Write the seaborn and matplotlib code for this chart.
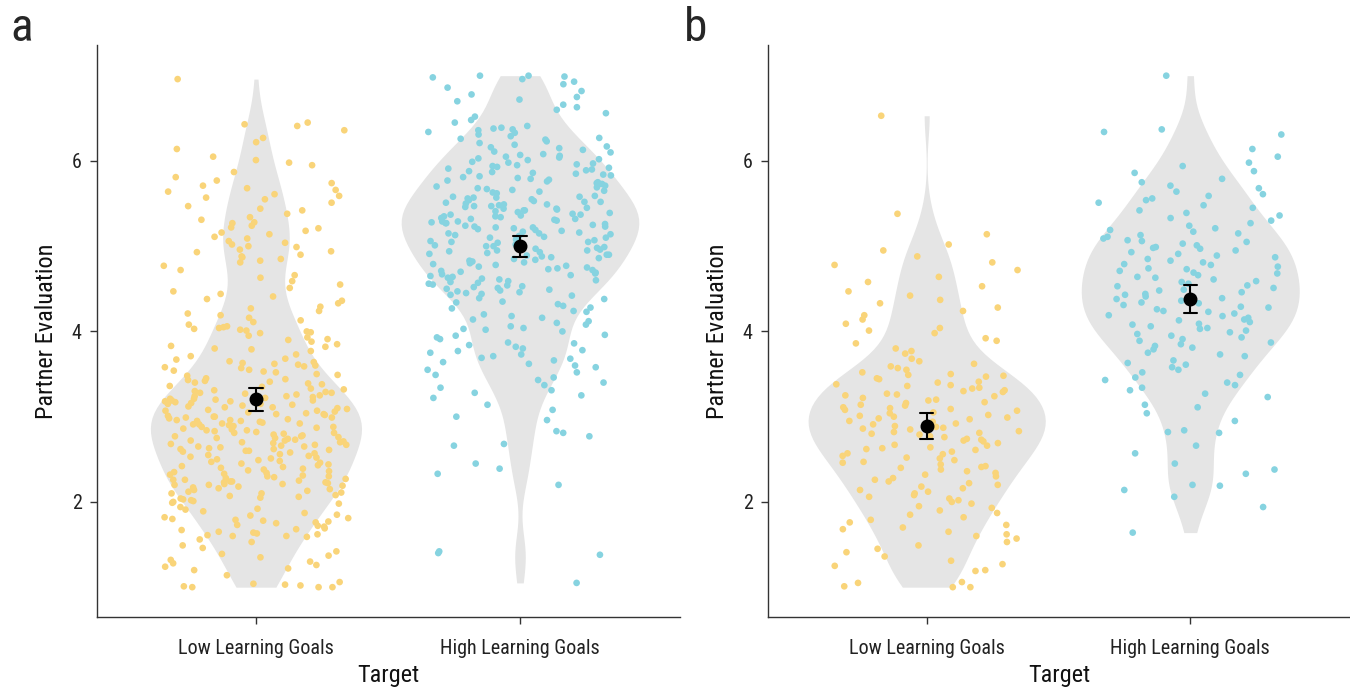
import numpy as np
import pandas as pd
import matplotlib
matplotlib.use('Agg')
import matplotlib.pyplot as plt
import seaborn as sns
from matplotlib import font_manager

# Partner evaluation scores (panel a = study 1, panel b = study 2)
low_a = [
    6.96, 6.45, 6.43, 6.41, 6.36, 6.27, 6.22, 6.14, 6.05, 6.01,
    5.98, 5.95, 5.87, 5.81, 5.77, 5.74, 5.71, 5.68, 5.66, 5.64, 5.61,
    5.59, 5.57, 5.55, 5.51, 5.47, 5.44, 5.42, 5.38, 5.34, 5.31, 5.28, 5.27, 5.24, 5.22, 5.21,
    5.18, 5.16, 5.14, 5.11, 5.09, 5.06, 5.04, 5.02, 5.00, 4.99, 4.96, 4.94, 4.93, 4.90, 4.88, 4.87, 4.85, 4.83, 4.81,
    4.77, 4.72, 4.66, 4.63, 4.59, 4.55, 4.51, 4.47, 4.44, 4.41,
    4.38, 4.36, 4.33, 4.29, 4.27, 4.24, 4.21, 4.19, 4.16, 4.13, 4.11, 4.08, 4.06, 4.05, 4.04, 4.03, 4.02, 4.01, 4.00,
    3.99, 3.98, 3.95, 3.93, 3.91, 3.90, 3.88, 3.85, 3.83, 3.82, 3.80, 3.79, 3.77,
    3.73, 3.71, 3.68, 3.67, 3.65, 3.64, 3.63, 3.62, 3.61, 3.60,
    3.59, 3.58, 3.57, 3.55, 3.54, 3.53, 3.52, 3.50, 3.49, 3.48, 3.45, 3.44, 3.43, 3.42, 3.41, 3.40, 3.39,
    3.38, 3.36, 3.35, 3.33, 3.32, 3.31, 3.30, 3.29, 3.28, 3.28, 3.27, 3.26, 3.25, 3.24, 3.24, 3.23, 3.22, 3.21, 3.21, 3.20,
    3.19, 3.19, 3.18, 3.18, 3.17, 3.16, 3.15, 3.15, 3.14, 3.13, 3.12, 3.11, 3.11, 3.10, 3.09, 3.08, 3.07, 3.07, 3.06, 3.05,
    3.04, 3.03, 3.03, 3.02, 3.01, 3.00, 3.00,
    2.99, 2.99, 2.98, 2.97, 2.96, 2.96, 2.95, 2.95, 2.94, 2.93, 2.92, 2.92, 2.91, 2.91, 2.90, 2.89, 2.88, 2.88, 2.87, 2.86,
    2.85, 2.84, 2.84, 2.83, 2.82, 2.81, 2.81, 2.80,
    2.79, 2.78, 2.77, 2.77, 2.76, 2.75, 2.75, 2.74, 2.73, 2.72, 2.72, 2.71, 2.70, 2.70, 2.69, 2.68, 2.67, 2.67, 2.66,
    2.65, 2.65, 2.64, 2.63, 2.62, 2.62, 2.61, 2.60, 2.60,
    2.59, 2.58, 2.57, 2.56, 2.55, 2.54, 2.53, 2.52, 2.51, 2.50, 2.49, 2.48, 2.47, 2.46,
    2.45, 2.44, 2.43, 2.42, 2.41, 2.40,
    2.39, 2.38, 2.37, 2.36, 2.35, 2.34, 2.33, 2.32, 2.31, 2.30, 2.30, 2.29, 2.28, 2.27,
    2.26, 2.26, 2.25, 2.24, 2.24, 2.23, 2.23, 2.22, 2.21, 2.21, 2.20, 2.20,
    2.19, 2.18, 2.17, 2.16, 2.15, 2.14, 2.13, 2.12, 2.11, 2.10, 2.10, 2.08, 2.07, 2.06, 2.05, 2.04,
    2.03, 2.02, 2.01, 2.00,
    1.99, 1.98, 1.94, 1.92, 1.91, 1.89, 1.87, 1.85, 1.84, 1.82, 1.81, 1.80, 1.79, 1.78,
    1.77, 1.76, 1.75, 1.73, 1.72, 1.71, 1.69, 1.68, 1.67, 1.65, 1.64, 1.63, 1.62, 1.61, 1.60, 1.60,
    1.59, 1.56, 1.53, 1.49, 1.46, 1.42, 1.39, 1.37, 1.35, 1.32, 1.30, 1.28, 1.26, 1.24, 1.22, 1.20,
    1.14, 1.06, 1.04, 1.03, 1.02, 1.01, 1.00, 1.00, 1.00,
]

high_a = [
    7.00, 7.00, 6.99, 6.98, 6.96, 6.93, 6.90, 6.86, 6.82,
    6.78, 6.75, 6.72, 6.70, 6.66, 6.63, 6.60, 6.56, 6.52, 6.48, 6.45, 6.41,
    6.39, 6.38, 6.37, 6.36, 6.34, 6.33, 6.31, 6.29, 6.27, 6.26, 6.25, 6.23, 6.21, 6.19, 6.17, 6.16, 6.15, 6.13,
    6.11, 6.10, 6.08, 6.07, 6.06, 6.05, 6.04, 6.03, 6.02, 6.01,
    5.99, 5.98, 5.97, 5.96, 5.95, 5.94, 5.93, 5.92, 5.91, 5.90, 5.89, 5.88, 5.87, 5.86, 5.85, 5.84, 5.83, 5.82, 5.81,
    5.80, 5.79, 5.78, 5.77, 5.76, 5.75, 5.74, 5.73, 5.72, 5.71, 5.70, 5.69, 5.68, 5.67, 5.66, 5.65, 5.64, 5.63, 5.62,
    5.59, 5.58, 5.58, 5.57, 5.57, 5.56, 5.55, 5.54, 5.53, 5.52, 5.52, 5.51, 5.50, 5.49, 5.49, 5.48, 5.47, 5.47,
    5.46, 5.45, 5.44, 5.44, 5.43, 5.42, 5.42, 5.41, 5.40,
    5.39, 5.38, 5.37, 5.37, 5.36, 5.35, 5.35, 5.34, 5.33, 5.32, 5.32, 5.31, 5.30, 5.29, 5.29, 5.28, 5.27, 5.27,
    5.26, 5.25, 5.24, 5.23, 5.23, 5.22, 5.22, 5.21, 5.20,
    5.19, 5.18, 5.17, 5.16, 5.15, 5.15, 5.14, 5.13, 5.12, 5.11, 5.10, 5.10, 5.09, 5.08, 5.07, 5.06, 5.05, 5.05, 5.04, 5.03, 5.02, 5.01, 5.00,
    5.00, 4.99, 4.98, 4.97, 4.96, 4.95, 4.95, 4.94, 4.93, 4.92, 4.91, 4.90, 4.90, 4.89, 4.88, 4.87, 4.86, 4.85, 4.84, 4.83, 4.82, 4.81, 4.80,
    4.79, 4.78, 4.77, 4.76, 4.75, 4.74, 4.73, 4.72, 4.71, 4.70, 4.69, 4.68, 4.67, 4.66, 4.65, 4.64, 4.63, 4.62, 4.61,
    4.60, 4.59, 4.58, 4.57, 4.56, 4.55, 4.54, 4.53, 4.52, 4.51, 4.50, 4.49, 4.48, 4.47, 4.46, 4.45, 4.44, 4.43, 4.42,
    4.39, 4.38, 4.35, 4.34, 4.32, 4.30, 4.28, 4.27, 4.24, 4.23, 4.20,
    4.18, 4.16, 4.14, 4.12, 4.10, 4.08, 4.06, 4.04, 4.03, 4.02, 4.00,
    3.96, 3.95, 3.93, 3.91, 3.87, 3.86, 3.84, 3.82, 3.80,
    3.78, 3.77, 3.75, 3.73, 3.71, 3.69, 3.68, 3.66, 3.64, 3.62, 3.60,
    3.58, 3.55, 3.52, 3.49, 3.46, 3.43, 3.40, 3.37, 3.34, 3.31, 3.28, 3.25, 3.22,
    3.14, 3.08, 3.00, 2.96, 2.83, 2.81,
    2.77, 2.68, 2.66, 2.45,
    2.39, 2.33, 2.20,
    1.42, 1.40, 1.38, 1.05,
]

low_b = [
    6.53, 5.38,
    5.14, 5.02, 4.95, 4.88, 4.81,
    4.78, 4.72, 4.64, 4.58, 4.53, 4.47, 4.42,
    4.37, 4.33, 4.28, 4.24, 4.19, 4.14, 4.09, 4.04, 4.01,
    3.98, 3.92, 3.89, 3.86, 3.80, 3.77, 3.74, 3.68, 3.65, 3.62,
    3.59, 3.57, 3.55, 3.52, 3.50, 3.49, 3.48, 3.47, 3.45, 3.44, 3.41, 3.40,
    3.38, 3.37, 3.36, 3.34, 3.33, 3.31, 3.30, 3.29, 3.27, 3.26, 3.25, 3.24, 3.22, 3.20,
    3.19, 3.17, 3.16, 3.14, 3.13, 3.11, 3.10, 3.09, 3.08, 3.07, 3.05, 3.04, 3.02, 3.01, 3.00,
    2.99, 2.98, 2.97, 2.95, 2.94, 2.92, 2.91, 2.89, 2.88, 2.87, 2.86, 2.85, 2.83, 2.82, 2.81, 2.80,
    2.79, 2.77, 2.76, 2.74, 2.73, 2.72, 2.71, 2.69, 2.67, 2.66, 2.64, 2.63, 2.62, 2.61, 2.59,
    2.57, 2.56, 2.54, 2.52, 2.51, 2.49, 2.47, 2.46, 2.44, 2.42, 2.41, 2.40,
    2.38, 2.36, 2.34, 2.32, 2.30, 2.28, 2.26, 2.24, 2.22, 2.20,
    2.18, 2.16, 2.14, 2.12, 2.10, 2.08, 2.06, 2.04, 2.02, 2.00,
    1.98, 1.95, 1.93, 1.90, 1.87, 1.85, 1.82, 1.79, 1.76, 1.73, 1.70, 1.68, 1.65, 1.62, 1.60,
    1.57, 1.53, 1.49, 1.45, 1.41, 1.36, 1.31, 1.27, 1.25, 1.20,
    1.19, 1.06, 1.05, 1.01, 1.00, 1.00,
]

high_b = [
    7.00,
    6.37, 6.34, 6.31, 6.14, 6.05,
    5.98, 5.94, 5.88, 5.86, 5.79, 5.75, 5.71, 5.68, 5.64, 5.61,
    5.59, 5.56, 5.54, 5.51, 5.48, 5.45, 5.42, 5.39, 5.36, 5.33, 5.30, 5.27, 5.24, 5.21,
    5.19, 5.17, 5.15, 5.13, 5.11, 5.09, 5.07, 5.06, 5.05, 5.03, 5.01,
    4.99, 4.98, 4.97, 4.95, 4.93, 4.91, 4.89, 4.87, 4.85, 4.83, 4.81,
    4.79, 4.78, 4.76, 4.74, 4.73, 4.71, 4.69, 4.68, 4.66, 4.64, 4.63, 4.61,
    4.59, 4.58, 4.56, 4.54, 4.53, 4.51, 4.49, 4.48, 4.46, 4.44, 4.43, 4.41,
    4.39, 4.38, 4.36, 4.34, 4.33, 4.31, 4.29, 4.28, 4.26, 4.24, 4.23, 4.21,
    4.19, 4.18, 4.16, 4.14, 4.13, 4.11, 4.09, 4.08, 4.06, 4.04, 4.03, 4.01,
    3.99, 3.97, 3.95, 3.93, 3.91, 3.89, 3.87, 3.85, 3.83, 3.81,
    3.79, 3.75, 3.73, 3.71, 3.66, 3.63, 3.61,
    3.58, 3.55, 3.52, 3.49, 3.46, 3.43, 3.40, 3.37, 3.34, 3.31, 3.27, 3.23,
    3.14, 3.11, 3.04, 2.95, 2.84, 2.82, 2.81,
    2.66, 2.57, 2.45,
    2.38, 2.33, 2.20, 2.19, 2.14, 2.06,
    1.94, 1.64,
]

groups = ['Low Learning Goals', 'High Learning Goals']
point_colors = ['#F9D479', '#86D3E0']


def make_df(low, high):
    return pd.DataFrame({'Target': [groups[0]] * len(low) + [groups[1]] * len(high),
                         'Partner Evaluation': low + high})


df_a = make_df(low_a, high_a)
df_b = make_df(low_b, high_b)

sns.set_theme(style='ticks')
# the original uses a condensed Helvetica; take the narrowest installed sans
names = {f.name for f in font_manager.fontManager.ttflist}
fam = next((f for f in ['Roboto Condensed', 'Liberation Sans Narrow', 'Liberation Sans', 'Roboto']
            if f in names), 'DejaVu Sans')
plt.rcParams['font.family'] = [fam, 'DejaVu Sans']

fig = plt.figure(figsize=(13.5, 6.9), dpi=100)
ax_a = fig.add_axes([97 / 1350, 73 / 690, 583 / 1350, 572 / 690])
ax_b = fig.add_axes([768 / 1350, 73 / 690, 582 / 1350, 572 / 690])

np.random.seed(7)
for ax, df in [(ax_a, df_a), (ax_b, df_b)]:
    sns.violinplot(data=df, x='Target', y='Partner Evaluation', order=groups, cut=0, inner=None,
                   color='#E5E5E5', saturation=1, linewidth=0, width=0.9,
                   bw_method='silverman', bw_adjust=0.68, ax=ax)
    sns.stripplot(data=df, x='Target', y='Partner Evaluation', order=groups, hue='Target',
                  hue_order=groups, palette=point_colors, jitter=0.35, size=4.8,
                  linewidth=0, legend=False, ax=ax, zorder=2)
    sns.pointplot(data=df, x='Target', y='Partner Evaluation', order=groups, color='black',
                  errorbar=('se', 1.96), capsize=0.05, linestyle='none', markersize=8,
                  err_kws={'linewidth': 1.5, 'zorder': 10}, zorder=11, ax=ax)

    ax.set_xlim(-0.602, 1.606)
    ax.set_ylim(0.65, 7.36)
    ax.set_yticks([2, 4, 6])
    sns.despine(ax=ax)
    for s in ['left', 'bottom']:
        ax.spines[s].set_color('#333333')
        ax.spines[s].set_linewidth(1.0)
    ax.tick_params(length=5, width=1, color='#333333', labelcolor='#222222', labelsize=14.5)
    ax.tick_params(axis='x', pad=11)
    ax.tick_params(axis='y', pad=6)
    ax.set_xlabel('Target', fontsize=17.5, color='#111111', labelpad=4)
    ax.set_ylabel('Partner Evaluation', fontsize=17.5, color='#111111', labelpad=10)

fig.text(10 / 1350, 1 - 28 / 690, 'a', fontsize=34, va='center', ha='left')
fig.text(684 / 1350, 1 - 28 / 690, 'b', fontsize=34, va='center', ha='left')

fig.savefig('out.png', dpi=100)
